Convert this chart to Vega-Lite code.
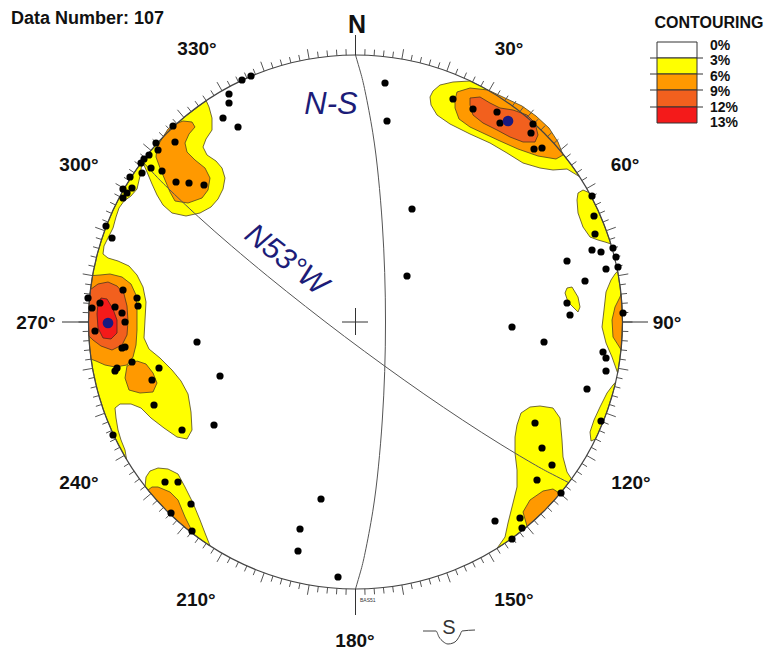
{
"$schema": "https://vega.github.io/schema/vega-lite/v6.json",
"width": 769, "height": 652, "padding": 0, "autosize": {"type": "none"},
"background": "white",
"config": {"view": {"stroke": null}},
"datasets": {
"poly": [
{"p":"L","lv":1,"x":142.3,"y":161.3},{"p":"L","lv":1,"x":136.8,"y":168.9},{"p":"L","lv":1,"x":124.3,"y":188.5},{"p":"L","lv":1,"x":113.5,"y":209.2},{"p":"L","lv":1,"x":104.6,"y":230.7},{"p":"L","lv":1,"x":97.6,"y":252.9},{"p":"L","lv":1,"x":92.6,"y":275.6},{"p":"L","lv":1,"x":89.5,"y":298.7},{"p":"L","lv":1,"x":88.5,"y":322},{"p":"L","lv":1,"x":89.5,"y":345.3},{"p":"L","lv":1,"x":92.6,"y":368.4},{"p":"L","lv":1,"x":97.6,"y":391.1},{"p":"L","lv":1,"x":104.6,"y":413.3},{"p":"L","lv":1,"x":113.5,"y":434.8},{"p":"L","lv":1,"x":126.6,"y":459.5},{"p":"L","lv":1,"x":125,"y":450},{"p":"L","lv":1,"x":121,"y":440},{"p":"L","lv":1,"x":118,"y":430},{"p":"L","lv":1,"x":116,"y":418},{"p":"L","lv":1,"x":115,"y":408},{"p":"L","lv":1,"x":120,"y":404},{"p":"L","lv":1,"x":131,"y":404},{"p":"L","lv":1,"x":141,"y":408},{"p":"L","lv":1,"x":151,"y":418},{"p":"L","lv":1,"x":164,"y":428},{"p":"L","lv":1,"x":177,"y":437},{"p":"L","lv":1,"x":187,"y":439},{"p":"L","lv":1,"x":192,"y":430},{"p":"L","lv":1,"x":191,"y":412},{"p":"L","lv":1,"x":188,"y":394},{"p":"L","lv":1,"x":181,"y":381},{"p":"L","lv":1,"x":172,"y":370},{"p":"L","lv":1,"x":160,"y":358},{"p":"L","lv":1,"x":149,"y":349},{"p":"L","lv":1,"x":144,"y":338},{"p":"L","lv":1,"x":145,"y":320},{"p":"L","lv":1,"x":146,"y":302},{"p":"L","lv":1,"x":143,"y":287},{"p":"L","lv":1,"x":137,"y":275},{"p":"L","lv":1,"x":129,"y":266},{"p":"L","lv":1,"x":118,"y":261},{"p":"L","lv":1,"x":108,"y":258},{"p":"L","lv":1,"x":103,"y":254},{"p":"L","lv":1,"x":104,"y":246},{"p":"L","lv":1,"x":108,"y":238},{"p":"L","lv":1,"x":113,"y":228},{"p":"L","lv":1,"x":116,"y":217},{"p":"L","lv":1,"x":119,"y":208},{"p":"L","lv":1,"x":124,"y":201},{"p":"L","lv":1,"x":131,"y":196},{"p":"L","lv":1,"x":137,"y":189},{"p":"L","lv":1,"x":140,"y":176},{"p":"L","lv":1,"x":142.3,"y":161.3},
{"p":"Y1","lv":1,"x":142.3,"y":161.3},{"p":"Y1","lv":1,"x":151,"y":150.4},{"p":"Y1","lv":1,"x":166.7,"y":133.2},{"p":"Y1","lv":1,"x":183.9,"y":117.5},{"p":"Y1","lv":1,"x":206.2,"y":100.7},{"p":"Y1","lv":1,"x":209,"y":107},{"p":"Y1","lv":1,"x":212,"y":118},{"p":"Y1","lv":1,"x":212,"y":130},{"p":"Y1","lv":1,"x":206,"y":139},{"p":"Y1","lv":1,"x":203,"y":147},{"p":"Y1","lv":1,"x":207,"y":155},{"p":"Y1","lv":1,"x":216,"y":161},{"p":"Y1","lv":1,"x":222,"y":168},{"p":"Y1","lv":1,"x":225,"y":178},{"p":"Y1","lv":1,"x":223,"y":189},{"p":"Y1","lv":1,"x":218,"y":199},{"p":"Y1","lv":1,"x":211,"y":207},{"p":"Y1","lv":1,"x":200,"y":213},{"p":"Y1","lv":1,"x":186,"y":216},{"p":"Y1","lv":1,"x":172,"y":213},{"p":"Y1","lv":1,"x":163,"y":205},{"p":"Y1","lv":1,"x":157,"y":195},{"p":"Y1","lv":1,"x":152,"y":184},{"p":"Y1","lv":1,"x":147,"y":172},{"p":"Y1","lv":1,"x":142.3,"y":161.3},
{"p":"Y3","lv":1,"x":431,"y":105},{"p":"Y3","lv":1,"x":430,"y":97},{"p":"Y3","lv":1,"x":433,"y":91},{"p":"Y3","lv":1,"x":440,"y":85},{"p":"Y3","lv":1,"x":453,"y":82},{"p":"Y3","lv":1,"x":470,"y":81},{"p":"Y3","lv":1,"x":480.9,"y":86.3},{"p":"Y3","lv":1,"x":489,"y":90.8},{"p":"Y3","lv":1,"x":508.6,"y":103.3},{"p":"Y3","lv":1,"x":527.1,"y":117.5},{"p":"Y3","lv":1,"x":544.3,"y":133.2},{"p":"Y3","lv":1,"x":560,"y":150.4},{"p":"Y3","lv":1,"x":574.2,"y":168.9},{"p":"Y3","lv":1,"x":579.4,"y":176.6},{"p":"Y3","lv":1,"x":567,"y":169},{"p":"Y3","lv":1,"x":553,"y":170},{"p":"Y3","lv":1,"x":540,"y":168},{"p":"Y3","lv":1,"x":523,"y":163},{"p":"Y3","lv":1,"x":507,"y":153},{"p":"Y3","lv":1,"x":490,"y":143},{"p":"Y3","lv":1,"x":470,"y":134},{"p":"Y3","lv":1,"x":450,"y":124},{"p":"Y3","lv":1,"x":437,"y":115},{"p":"Y3","lv":1,"x":431,"y":105},
{"p":"Y5","lv":1,"x":589,"y":192.6},{"p":"Y5","lv":1,"x":591.2,"y":196.6},{"p":"Y5","lv":1,"x":597.5,"y":209.2},{"p":"Y5","lv":1,"x":606.4,"y":230.7},{"p":"Y5","lv":1,"x":610.8,"y":243.9},{"p":"Y5","lv":1,"x":605,"y":242},{"p":"Y5","lv":1,"x":598,"y":240},{"p":"Y5","lv":1,"x":590,"y":237},{"p":"Y5","lv":1,"x":583,"y":227},{"p":"Y5","lv":1,"x":578,"y":213},{"p":"Y5","lv":1,"x":577,"y":200},{"p":"Y5","lv":1,"x":578,"y":193},{"p":"Y5","lv":1,"x":583,"y":190},{"p":"Y5","lv":1,"x":589,"y":192.6},
{"p":"Y6","lv":1,"x":567,"y":288},{"p":"Y6","lv":1,"x":572,"y":287},{"p":"Y6","lv":1,"x":578,"y":297},{"p":"Y6","lv":1,"x":580,"y":307},{"p":"Y6","lv":1,"x":578,"y":312},{"p":"Y6","lv":1,"x":573,"y":307},{"p":"Y6","lv":1,"x":568,"y":302},{"p":"Y6","lv":1,"x":565,"y":293},{"p":"Y6","lv":1,"x":567,"y":288},
{"p":"Y7","lv":1,"x":615,"y":274},{"p":"Y7","lv":1,"x":617.6,"y":271.1},{"p":"Y7","lv":1,"x":618.4,"y":275.6},{"p":"Y7","lv":1,"x":621.5,"y":298.7},{"p":"Y7","lv":1,"x":622.5,"y":322},{"p":"Y7","lv":1,"x":621.5,"y":345.3},{"p":"Y7","lv":1,"x":618.4,"y":368.4},{"p":"Y7","lv":1,"x":617.6,"y":372.9},{"p":"Y7","lv":1,"x":612,"y":357},{"p":"Y7","lv":1,"x":606,"y":343},{"p":"Y7","lv":1,"x":602,"y":327},{"p":"Y7","lv":1,"x":604,"y":310},{"p":"Y7","lv":1,"x":606,"y":292},{"p":"Y7","lv":1,"x":611,"y":280},{"p":"Y7","lv":1,"x":615,"y":274},
{"p":"Y8","lv":1,"x":615.7,"y":382.1},{"p":"Y8","lv":1,"x":613.4,"y":391.1},{"p":"Y8","lv":1,"x":606.4,"y":413.3},{"p":"Y8","lv":1,"x":597.5,"y":434.8},{"p":"Y8","lv":1,"x":595.5,"y":439.1},{"p":"Y8","lv":1,"x":591,"y":441},{"p":"Y8","lv":1,"x":590,"y":432},{"p":"Y8","lv":1,"x":594,"y":420},{"p":"Y8","lv":1,"x":600,"y":407},{"p":"Y8","lv":1,"x":607,"y":393},{"p":"Y8","lv":1,"x":613,"y":385},{"p":"Y8","lv":1,"x":615.7,"y":382.1},
{"p":"Y9","lv":1,"x":571.5,"y":478.9},{"p":"Y9","lv":1,"x":560,"y":493.6},{"p":"Y9","lv":1,"x":544.3,"y":510.8},{"p":"Y9","lv":1,"x":527.1,"y":526.5},{"p":"Y9","lv":1,"x":508.6,"y":540.7},{"p":"Y9","lv":1,"x":497,"y":548.4},{"p":"Y9","lv":1,"x":505,"y":537},{"p":"Y9","lv":1,"x":508,"y":523},{"p":"Y9","lv":1,"x":513,"y":503},{"p":"Y9","lv":1,"x":517,"y":487},{"p":"Y9","lv":1,"x":517,"y":470},{"p":"Y9","lv":1,"x":515,"y":453},{"p":"Y9","lv":1,"x":515,"y":437},{"p":"Y9","lv":1,"x":517,"y":425},{"p":"Y9","lv":1,"x":521,"y":413},{"p":"Y9","lv":1,"x":530,"y":407},{"p":"Y9","lv":1,"x":540,"y":406},{"p":"Y9","lv":1,"x":553,"y":408},{"p":"Y9","lv":1,"x":560,"y":418},{"p":"Y9","lv":1,"x":562,"y":440},{"p":"Y9","lv":1,"x":563,"y":457},{"p":"Y9","lv":1,"x":567,"y":472},{"p":"Y9","lv":1,"x":571.5,"y":478.9},
{"p":"Y10","lv":1,"x":210.1,"y":545.9},{"p":"Y10","lv":1,"x":202.4,"y":540.7},{"p":"Y10","lv":1,"x":183.9,"y":526.5},{"p":"Y10","lv":1,"x":166.7,"y":510.8},{"p":"Y10","lv":1,"x":151,"y":493.6},{"p":"Y10","lv":1,"x":145.1,"y":486.4},{"p":"Y10","lv":1,"x":146,"y":477},{"p":"Y10","lv":1,"x":150,"y":471},{"p":"Y10","lv":1,"x":158,"y":468},{"p":"Y10","lv":1,"x":168,"y":469},{"p":"Y10","lv":1,"x":178,"y":474},{"p":"Y10","lv":1,"x":185,"y":487},{"p":"Y10","lv":1,"x":193,"y":503},{"p":"Y10","lv":1,"x":200,"y":520},{"p":"Y10","lv":1,"x":205,"y":533},{"p":"Y10","lv":1,"x":210.1,"y":545.9},
{"p":"O1","lv":2,"x":173,"y":125},{"p":"O1","lv":2,"x":183,"y":121},{"p":"O1","lv":2,"x":192,"y":122},{"p":"O1","lv":2,"x":195,"y":127},{"p":"O1","lv":2,"x":189,"y":134},{"p":"O1","lv":2,"x":185,"y":143},{"p":"O1","lv":2,"x":187,"y":152},{"p":"O1","lv":2,"x":195,"y":160},{"p":"O1","lv":2,"x":205,"y":168},{"p":"O1","lv":2,"x":210,"y":178},{"p":"O1","lv":2,"x":208,"y":190},{"p":"O1","lv":2,"x":202,"y":198},{"p":"O1","lv":2,"x":188,"y":203},{"p":"O1","lv":2,"x":175,"y":201},{"p":"O1","lv":2,"x":170,"y":192},{"p":"O1","lv":2,"x":165,"y":180},{"p":"O1","lv":2,"x":160,"y":168},{"p":"O1","lv":2,"x":156,"y":157},{"p":"O1","lv":2,"x":157,"y":147},{"p":"O1","lv":2,"x":163,"y":137},{"p":"O1","lv":2,"x":168,"y":129},{"p":"O1","lv":2,"x":173,"y":125},
{"p":"O4","lv":2,"x":455,"y":100},{"p":"O4","lv":2,"x":457,"y":92},{"p":"O4","lv":2,"x":470,"y":88},{"p":"O4","lv":2,"x":488,"y":90},{"p":"O4","lv":2,"x":505,"y":98},{"p":"O4","lv":2,"x":522,"y":106},{"p":"O4","lv":2,"x":536,"y":116},{"p":"O4","lv":2,"x":549,"y":128},{"p":"O4","lv":2,"x":558,"y":142},{"p":"O4","lv":2,"x":563,"y":155},{"p":"O4","lv":2,"x":556,"y":159},{"p":"O4","lv":2,"x":538,"y":156},{"p":"O4","lv":2,"x":518,"y":149},{"p":"O4","lv":2,"x":500,"y":141},{"p":"O4","lv":2,"x":485,"y":134},{"p":"O4","lv":2,"x":470,"y":127},{"p":"O4","lv":2,"x":459,"y":119},{"p":"O4","lv":2,"x":455,"y":108},{"p":"O4","lv":2,"x":455,"y":100},
{"p":"O7","lv":2,"x":621,"y":294.1},{"p":"O7","lv":2,"x":622.5,"y":322},{"p":"O7","lv":2,"x":621,"y":349.9},{"p":"O7","lv":2,"x":620,"y":348},{"p":"O7","lv":2,"x":613,"y":337},{"p":"O7","lv":2,"x":612,"y":320},{"p":"O7","lv":2,"x":615,"y":307},{"p":"O7","lv":2,"x":620,"y":297},{"p":"O7","lv":2,"x":621,"y":294.1},
{"p":"O9","lv":2,"x":560,"y":493.6},{"p":"O9","lv":2,"x":544.3,"y":510.8},{"p":"O9","lv":2,"x":527.1,"y":526.5},{"p":"O9","lv":2,"x":523,"y":512},{"p":"O9","lv":2,"x":530,"y":500},{"p":"O9","lv":2,"x":543,"y":491},{"p":"O9","lv":2,"x":553,"y":489},{"p":"O9","lv":2,"x":560,"y":493.6},
{"p":"O10","lv":2,"x":194.8,"y":535.2},{"p":"O10","lv":2,"x":183.9,"y":526.5},{"p":"O10","lv":2,"x":166.7,"y":510.8},{"p":"O10","lv":2,"x":151,"y":493.6},{"p":"O10","lv":2,"x":148,"y":490},{"p":"O10","lv":2,"x":152,"y":487},{"p":"O10","lv":2,"x":158,"y":487},{"p":"O10","lv":2,"x":170,"y":492},{"p":"O10","lv":2,"x":178,"y":500},{"p":"O10","lv":2,"x":185,"y":517},{"p":"O10","lv":2,"x":191,"y":529},{"p":"O10","lv":2,"x":194.8,"y":535.2},
{"p":"O2","lv":2,"x":92.6,"y":275.6},{"p":"O2","lv":2,"x":100,"y":275},{"p":"O2","lv":2,"x":110,"y":274},{"p":"O2","lv":2,"x":122,"y":277},{"p":"O2","lv":2,"x":131,"y":284},{"p":"O2","lv":2,"x":136,"y":295},{"p":"O2","lv":2,"x":137,"y":310},{"p":"O2","lv":2,"x":137,"y":330},{"p":"O2","lv":2,"x":136,"y":345},{"p":"O2","lv":2,"x":133,"y":357},{"p":"O2","lv":2,"x":127,"y":365},{"p":"O2","lv":2,"x":115,"y":367},{"p":"O2","lv":2,"x":105,"y":365},{"p":"O2","lv":2,"x":96,"y":361},{"p":"O2","lv":2,"x":91.1,"y":359.2},{"p":"O2","lv":2,"x":89.5,"y":345.3},{"p":"O2","lv":2,"x":88.5,"y":322},{"p":"O2","lv":2,"x":89.5,"y":298.7},{"p":"O2","lv":2,"x":92.6,"y":275.6},
{"p":"O3","lv":2,"x":127,"y":366},{"p":"O3","lv":2,"x":137,"y":361},{"p":"O3","lv":2,"x":146,"y":364},{"p":"O3","lv":2,"x":153,"y":373},{"p":"O3","lv":2,"x":157,"y":383},{"p":"O3","lv":2,"x":153,"y":392},{"p":"O3","lv":2,"x":140,"y":393},{"p":"O3","lv":2,"x":129,"y":390},{"p":"O3","lv":2,"x":125,"y":378},{"p":"O3","lv":2,"x":127,"y":366},
{"p":"D2","lv":3,"x":90.5,"y":289.5},{"p":"D2","lv":3,"x":98,"y":284},{"p":"D2","lv":3,"x":108,"y":282},{"p":"D2","lv":3,"x":117,"y":286},{"p":"D2","lv":3,"x":124,"y":294},{"p":"D2","lv":3,"x":127,"y":306},{"p":"D2","lv":3,"x":128,"y":321},{"p":"D2","lv":3,"x":127,"y":335},{"p":"D2","lv":3,"x":122,"y":345},{"p":"D2","lv":3,"x":112,"y":350},{"p":"D2","lv":3,"x":101,"y":346},{"p":"D2","lv":3,"x":93,"y":340},{"p":"D2","lv":3,"x":88.9,"y":336},{"p":"D2","lv":3,"x":88.5,"y":322},{"p":"D2","lv":3,"x":89.2,"y":305},{"p":"D2","lv":3,"x":90.5,"y":289.5},
{"p":"D4","lv":3,"x":470,"y":105},{"p":"D4","lv":3,"x":470,"y":98},{"p":"D4","lv":3,"x":480,"y":97},{"p":"D4","lv":3,"x":490,"y":103},{"p":"D4","lv":3,"x":500,"y":108},{"p":"D4","lv":3,"x":513,"y":110},{"p":"D4","lv":3,"x":527,"y":115},{"p":"D4","lv":3,"x":535,"y":123},{"p":"D4","lv":3,"x":538,"y":135},{"p":"D4","lv":3,"x":535,"y":142},{"p":"D4","lv":3,"x":523,"y":142},{"p":"D4","lv":3,"x":510,"y":137},{"p":"D4","lv":3,"x":497,"y":130},{"p":"D4","lv":3,"x":483,"y":123},{"p":"D4","lv":3,"x":473,"y":115},{"p":"D4","lv":3,"x":470,"y":105},
{"p":"R2","lv":4,"x":97,"y":314},{"p":"R2","lv":4,"x":98,"y":303},{"p":"R2","lv":4,"x":101,"y":298},{"p":"R2","lv":4,"x":107,"y":299},{"p":"R2","lv":4,"x":113,"y":309},{"p":"R2","lv":4,"x":117,"y":320},{"p":"R2","lv":4,"x":117,"y":333},{"p":"R2","lv":4,"x":111,"y":339},{"p":"R2","lv":4,"x":103,"y":338},{"p":"R2","lv":4,"x":98,"y":328},{"p":"R2","lv":4,"x":97,"y":314}
],
"gc": [
{"g":"NS","x":355.5,"y":55},{"g":"NS","x":360.7,"y":72.9},{"g":"NS","x":365.2,"y":91.8},{"g":"NS","x":372.8,"y":132.8},{"g":"NS","x":378.4,"y":177.1},{"g":"NS","x":382.3,"y":224},{"g":"NS","x":384.7,"y":272.5},{"g":"NS","x":385.5,"y":322},{"g":"NS","x":384.7,"y":371.5},{"g":"NS","x":382.3,"y":420},{"g":"NS","x":378.4,"y":466.9},{"g":"NS","x":372.8,"y":511.2},{"g":"NS","x":365.2,"y":552.2},{"g":"NS","x":360.7,"y":571.1},{"g":"NS","x":355.5,"y":589},
{"g":"NW","x":142.3,"y":161.3},{"g":"NW","x":154.7,"y":174.6},{"g":"NW","x":168.2,"y":188.3},{"g":"NW","x":198.3,"y":216.7},{"g":"NW","x":231.6,"y":246},{"g":"NW","x":267.6,"y":276.1},{"g":"NW","x":305.5,"y":306.4},{"g":"NW","x":344.6,"y":336.5},{"g":"NW","x":384.3,"y":365.8},{"g":"NW","x":423.9,"y":393.9},{"g":"NW","x":462.7,"y":420.1},{"g":"NW","x":500.1,"y":444},{"g":"NW","x":535.6,"y":465.2},{"g":"NW","x":552.6,"y":474.4},{"g":"NW","x":568.7,"y":482.7}
],
"ssym": [
{"x":423,"y":631},{"x":436,"y":631},{"x":439,"y":637},{"x":443,"y":641.5},{"x":448,"y":644},{"x":453,"y":643},{"x":457,"y":640},{"x":460,"y":635},{"x":462,"y":631},{"x":475,"y":630}
],
"ticks": [{"a":0},{"a":2},{"a":4},{"a":6},{"a":8},{"a":10},{"a":12},{"a":14},{"a":16},{"a":18},{"a":20},{"a":22},{"a":24},{"a":26},{"a":28},{"a":30},{"a":32},{"a":34},{"a":36},{"a":38},{"a":40},{"a":42},{"a":44},{"a":46},{"a":48},{"a":50},{"a":52},{"a":54},{"a":56},{"a":58},{"a":60},{"a":62},{"a":64},{"a":66},{"a":68},{"a":70},{"a":72},{"a":74},{"a":76},{"a":78},{"a":80},{"a":82},{"a":84},{"a":86},{"a":88},{"a":90},{"a":92},{"a":94},{"a":96},{"a":98},{"a":100},{"a":102},{"a":104},{"a":106},{"a":108},{"a":110},{"a":112},{"a":114},{"a":116},{"a":118},{"a":120},{"a":122},{"a":124},{"a":126},{"a":128},{"a":130},{"a":132},{"a":134},{"a":136},{"a":138},{"a":140},{"a":142},{"a":144},{"a":146},{"a":148},{"a":150},{"a":152},{"a":154},{"a":156},{"a":158},{"a":160},{"a":162},{"a":164},{"a":166},{"a":168},{"a":170},{"a":172},{"a":174},{"a":176},{"a":178},{"a":180},{"a":182},{"a":184},{"a":186},{"a":188},{"a":190},{"a":192},{"a":194},{"a":196},{"a":198},{"a":200},{"a":202},{"a":204},{"a":206},{"a":208},{"a":210},{"a":212},{"a":214},{"a":216},{"a":218},{"a":220},{"a":222},{"a":224},{"a":226},{"a":228},{"a":230},{"a":232},{"a":234},{"a":236},{"a":238},{"a":240},{"a":242},{"a":244},{"a":246},{"a":248},{"a":250},{"a":252},{"a":254},{"a":256},{"a":258},{"a":260},{"a":262},{"a":264},{"a":266},{"a":268},{"a":270},{"a":272},{"a":274},{"a":276},{"a":278},{"a":280},{"a":282},{"a":284},{"a":286},{"a":288},{"a":290},{"a":292},{"a":294},{"a":296},{"a":298},{"a":300},{"a":302},{"a":304},{"a":306},{"a":308},{"a":310},{"a":312},{"a":314},{"a":316},{"a":318},{"a":320},{"a":322},{"a":324},{"a":326},{"a":328},{"a":330},{"a":332},{"a":334},{"a":336},{"a":338},{"a":340},{"a":342},{"a":344},{"a":346},{"a":348},{"a":350},{"a":352},{"a":354},{"a":356},{"a":358}],
"segs": [
{"x":342,"y":322,"x2":368,"y2":322},{"x":355.5,"y":308,"x2":355.5,"y2":335},
{"x":62,"y":322,"x2":88.5,"y2":322},{"x":622.5,"y":322,"x2":648,"y2":322},
{"x":355.5,"y":35,"x2":355.5,"y2":55},{"x":355.5,"y":589,"x2":355.5,"y2":615},
{"x":650,"y":58,"x2":703,"y2":58},{"x":650,"y":74,"x2":703,"y2":74},{"x":650,"y":90,"x2":703,"y2":90},{"x":650,"y":107,"x2":703,"y2":107}
],
"pts": [
{"x":242,"y":80},{"x":251,"y":76},{"x":229,"y":94},{"x":229,"y":103},{"x":223,"y":118},{"x":238,"y":127},{"x":173,"y":126},{"x":175,"y":142},{"x":156,"y":143},{"x":158,"y":150},{"x":149,"y":155},{"x":144,"y":159},{"x":141,"y":163},{"x":151,"y":168},{"x":162,"y":171},{"x":142,"y":173},{"x":176,"y":182},{"x":189,"y":183},{"x":204,"y":185},{"x":130,"y":177},{"x":123,"y":189},{"x":132,"y":188},{"x":127,"y":193},{"x":123,"y":198},
{"x":106,"y":226},{"x":112,"y":238},
{"x":123,"y":290},{"x":88,"y":298},{"x":137,"y":298},{"x":138,"y":306},{"x":100,"y":303},{"x":92,"y":308},{"x":115,"y":307},{"x":122,"y":313},{"x":125,"y":322},{"x":95,"y":331},{"x":125,"y":347},{"x":122,"y":348},{"x":132,"y":362},{"x":117,"y":368},{"x":115,"y":371},{"x":159,"y":368},{"x":152,"y":380},{"x":154,"y":405},{"x":197,"y":342},{"x":220,"y":376},{"x":182,"y":430},{"x":113,"y":435},{"x":214,"y":425},
{"x":165,"y":482},{"x":178,"y":482},{"x":191,"y":504},{"x":171,"y":513},{"x":192,"y":531},
{"x":321,"y":499},{"x":300,"y":529},{"x":298,"y":551},{"x":338,"y":577},
{"x":385,"y":83},{"x":387,"y":121},{"x":453,"y":99},{"x":473,"y":109},{"x":497,"y":112},{"x":500,"y":123},{"x":533,"y":124},{"x":531,"y":133},{"x":534,"y":149},{"x":542,"y":148},
{"x":412,"y":209},{"x":407,"y":276},{"x":512,"y":327},{"x":544,"y":342},
{"x":592,"y":196},{"x":594,"y":216},{"x":595,"y":234},{"x":592,"y":250},{"x":601,"y":252},{"x":613,"y":248},{"x":616,"y":257},{"x":567,"y":261},{"x":606,"y":269},{"x":618,"y":267},{"x":585,"y":281},{"x":567,"y":303},{"x":570,"y":315},{"x":623,"y":313},{"x":603,"y":352},{"x":606,"y":358},{"x":606,"y":371},{"x":587,"y":389},{"x":601,"y":421},
{"x":535,"y":423},{"x":542,"y":448},{"x":552,"y":465},{"x":537,"y":480},{"x":561,"y":493},{"x":495,"y":521},{"x":520,"y":518},{"x":522,"y":528},{"x":512,"y":539}
],
"cent": [{"x":108,"y":323},{"x":508,"y":121}],
"legbox": [
{"c":"0","x":657,"x2":697,"y":42,"y2":58},{"c":"3","x":657,"x2":697,"y":58,"y2":74},{"c":"6","x":657,"x2":697,"y":74,"y2":90},{"c":"9","x":657,"x2":697,"y":90,"y2":107},{"c":"12","x":657,"x2":697,"y":107,"y2":123}
],
"labels": [
{"k":"deg","t":"330°","x":197,"y":49},{"k":"deg","t":"30°","x":509,"y":49},{"k":"deg","t":"300°","x":79,"y":165},{"k":"deg","t":"60°","x":625,"y":165},{"k":"deg","t":"270°","x":36,"y":323},{"k":"deg","t":"90°","x":667,"y":323},{"k":"deg","t":"240°","x":79,"y":483},{"k":"deg","t":"120°","x":631,"y":483},{"k":"deg","t":"210°","x":196,"y":600},{"k":"deg","t":"150°","x":514,"y":600},{"k":"deg","t":"180°","x":355,"y":641},
{"k":"N","t":"N","x":357,"y":25},
{"k":"title","t":"Data Number: 107","x":11,"y":19},
{"k":"cont","t":"CONTOURING","x":709,"y":23},
{"k":"leg","t":"0%","x":710,"y":46},{"k":"leg","t":"3%","x":710,"y":61},{"k":"leg","t":"6%","x":710,"y":76.5},{"k":"leg","t":"9%","x":710,"y":92},{"k":"leg","t":"12%","x":710,"y":107.5},{"k":"leg","t":"13%","x":710,"y":123},
{"k":"ns","t":"N-S","x":331,"y":105},
{"k":"nw","t":"N53°W","x":286,"y":260},
{"k":"s","t":"S","x":449,"y":628},
{"k":"bas","t":"BAS51","x":360,"y":600}
]
},
"encoding": {
"x": {"field": "x", "type": "quantitative", "scale": {"domain": [0, 769], "nice": false, "zero": false}, "axis": null},
"y": {"field": "y", "type": "quantitative", "scale": {"domain": [0, 652], "nice": false, "zero": false, "reverse": true}, "axis": null}
},
"layer": [
{"data": {"name": "poly"}, "transform": [{"filter": "datum.lv == 1"}], "mark": {"type": "line", "fill": "#FFFF00", "stroke": "#4f4520", "strokeWidth": 0.8}, "encoding": {"detail": {"field": "p"}, "order": {"value": null}}},
{"data": {"name": "poly"}, "transform": [{"filter": "datum.lv == 2"}], "mark": {"type": "line", "fill": "#FF9900", "stroke": "#4f4520", "strokeWidth": 0.8}, "encoding": {"detail": {"field": "p"}, "order": {"value": null}}},
{"data": {"name": "poly"}, "transform": [{"filter": "datum.lv == 3"}], "mark": {"type": "line", "fill": "#F2601E", "stroke": "#4f3520", "strokeWidth": 0.8}, "encoding": {"detail": {"field": "p"}, "order": {"value": null}}},
{"data": {"name": "poly"}, "transform": [{"filter": "datum.lv == 4"}], "mark": {"type": "line", "fill": "#F41A1A", "stroke": "#4f2520", "strokeWidth": 0.8}, "encoding": {"detail": {"field": "p"}, "order": {"value": null}}},
{"data": {"name": "gc"}, "mark": {"type": "line", "stroke": "#555555", "strokeWidth": 1, "interpolate": "natural"}, "encoding": {"detail": {"field": "g"}, "order": {"value": null}}},
{"data": {"name": "ssym"}, "mark": {"type": "line", "stroke": "#444444", "strokeWidth": 1, "interpolate": "monotone"}, "encoding": {"order": {"value": null}}},
{"data": {"name": "ticks"}, "transform": [
  {"calculate": "datum.a * PI / 180", "as": "r"},
  {"calculate": "datum.a % 10 == 0 ? 10 : 6", "as": "L"},
  {"calculate": "355.5 + 267 * sin(datum.r)", "as": "x"},
  {"calculate": "322 - 267 * cos(datum.r)", "as": "y"},
  {"calculate": "355.5 + (267 + datum.L) * sin(datum.r)", "as": "x2"},
  {"calculate": "322 - (267 + datum.L) * cos(datum.r)", "as": "y2"}],
 "mark": {"type": "rule", "stroke": "#555555", "strokeWidth": 1}, "encoding": {"x2": {"field": "x2"}, "y2": {"field": "y2"}}},
{"data": {"values": [{"x": 355.5, "y": 322}]}, "mark": {"type": "point", "shape": "circle", "size": 285156, "filled": false, "stroke": "#444444", "strokeWidth": 1.2, "opacity": 1}},
{"data": {"name": "segs"}, "mark": {"type": "rule", "stroke": "#333333", "strokeWidth": 1}, "encoding": {"x2": {"field": "x2"}, "y2": {"field": "y2"}}},
{"data": {"name": "pts"}, "mark": {"type": "point", "shape": "circle", "filled": true, "color": "#000000", "size": 52, "opacity": 1}},
{"data": {"name": "cent"}, "mark": {"type": "point", "shape": "circle", "filled": true, "color": "#1a1a80", "size": 115, "opacity": 1}},
{"data": {"name": "legbox"}, "mark": {"type": "rect", "stroke": "#333333", "strokeWidth": 1}, "encoding": {"x2": {"field": "x2"}, "y2": {"field": "y2"}, "fill": {"field": "c", "type": "nominal", "scale": {"domain": ["0", "3", "6", "9", "12"], "range": ["#FFFFFF", "#FFFF00", "#FF9900", "#F2601E", "#F41A1A"]}, "legend": null}}},
{"data": {"name": "labels"}, "transform": [{"filter": "datum.k == 'deg'"}], "mark": {"type": "text", "font": "Liberation Sans", "fontWeight": "bold", "fontSize": 19, "align": "center", "baseline": "middle", "color": "#111111"}, "encoding": {"text": {"field": "t"}}},
{"data": {"name": "labels"}, "transform": [{"filter": "datum.k == 'N'"}], "mark": {"type": "text", "font": "Liberation Sans", "fontWeight": "bold", "fontSize": 25, "align": "center", "baseline": "middle", "color": "#111111"}, "encoding": {"text": {"field": "t"}}},
{"data": {"name": "labels"}, "transform": [{"filter": "datum.k == 'title'"}], "mark": {"type": "text", "font": "Liberation Sans", "fontWeight": "bold", "fontSize": 18, "align": "left", "baseline": "middle", "color": "#111111"}, "encoding": {"text": {"field": "t"}}},
{"data": {"name": "labels"}, "transform": [{"filter": "datum.k == 'cont'"}], "mark": {"type": "text", "font": "Liberation Sans", "fontWeight": "bold", "fontSize": 16, "align": "center", "baseline": "middle", "color": "#111111"}, "encoding": {"text": {"field": "t"}}},
{"data": {"name": "labels"}, "transform": [{"filter": "datum.k == 'leg'"}], "mark": {"type": "text", "font": "Liberation Sans", "fontWeight": "bold", "fontSize": 14, "align": "left", "baseline": "middle", "color": "#111111"}, "encoding": {"text": {"field": "t"}}},
{"data": {"name": "labels"}, "transform": [{"filter": "datum.k == 'ns'"}], "mark": {"type": "text", "font": "Liberation Sans", "fontStyle": "italic", "fontSize": 31, "align": "center", "baseline": "middle", "color": "#1c1c78"}, "encoding": {"text": {"field": "t"}}},
{"data": {"name": "labels"}, "transform": [{"filter": "datum.k == 'nw'"}], "mark": {"type": "text", "font": "Liberation Sans", "fontStyle": "italic", "fontSize": 30, "angle": 38, "align": "center", "baseline": "middle", "color": "#1c1c78"}, "encoding": {"text": {"field": "t"}}},
{"data": {"name": "labels"}, "transform": [{"filter": "datum.k == 's'"}], "mark": {"type": "text", "font": "Liberation Sans", "fontSize": 20, "align": "center", "baseline": "middle", "color": "#333333"}, "encoding": {"text": {"field": "t"}}},
{"data": {"name": "labels"}, "transform": [{"filter": "datum.k == 'bas'"}], "mark": {"type": "text", "font": "Liberation Sans", "fontSize": 5, "align": "left", "baseline": "middle", "color": "#333333"}, "encoding": {"text": {"field": "t"}}}
]
}
